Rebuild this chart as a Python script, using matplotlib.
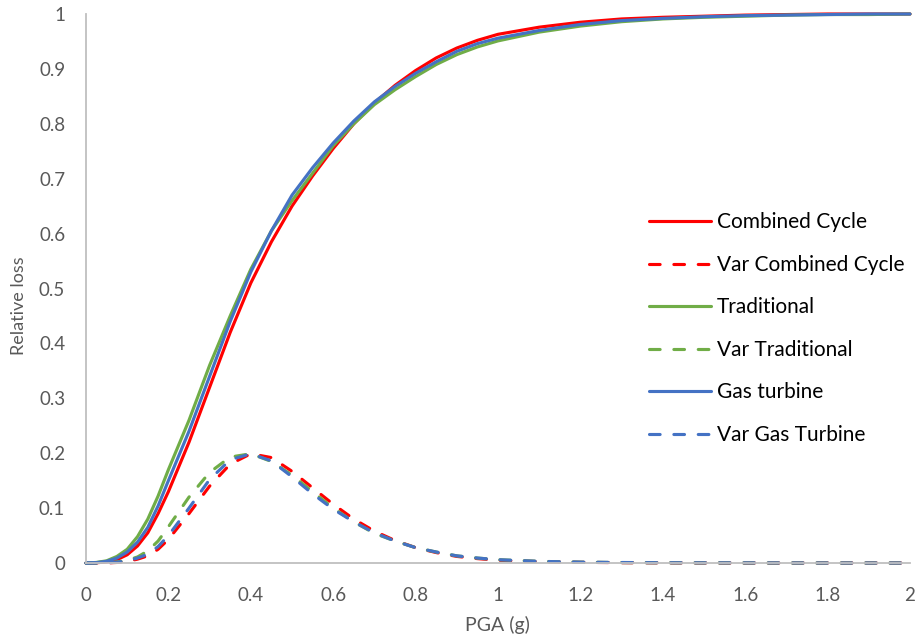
import numpy as np
import matplotlib
matplotlib.use('Agg')
import matplotlib.pyplot as plt
from matplotlib.ticker import FuncFormatter

# PGA (g) values
pga = [0, 0.025, 0.05, 0.075, 0.1, 0.125, 0.15, 0.175, 0.2, 0.25, 0.3, 0.35, 0.4,
       0.45, 0.5, 0.55, 0.6, 0.65, 0.7, 0.75, 0.8, 0.85, 0.9, 0.95, 1.0, 1.1, 1.2,
       1.3, 1.4, 1.5, 1.6, 1.7, 1.8, 1.9, 2.0]

combined_cycle = [0, 0.0004, 0.002, 0.006, 0.015, 0.031, 0.055, 0.09, 0.13, 0.22,
                  0.32, 0.42, 0.51, 0.585, 0.65, 0.705, 0.755, 0.80, 0.838, 0.87,
                  0.897, 0.92, 0.938, 0.952, 0.963, 0.976, 0.985, 0.991, 0.994,
                  0.996, 0.998, 0.999, 1.0, 1.0, 1.0]
var_combined_cycle = [0, 0, 0.0002, 0.001, 0.003, 0.007, 0.013, 0.025, 0.043, 0.09,
                      0.14, 0.18, 0.199, 0.192, 0.167, 0.137, 0.107, 0.08, 0.058,
                      0.041, 0.028, 0.019, 0.012, 0.008, 0.005, 0.0025, 0.0012,
                      0.0006, 0.0003, 0.0001, 0, 0, 0, 0, 0]

traditional = [0, 0.001, 0.004, 0.012, 0.025, 0.048, 0.08, 0.122, 0.17, 0.26, 0.36,
               0.45, 0.535, 0.605, 0.66, 0.71, 0.76, 0.80, 0.835, 0.862, 0.886,
               0.908, 0.926, 0.94, 0.951, 0.967, 0.978, 0.986, 0.991, 0.994, 0.996,
               0.998, 0.999, 0.999, 1.0]
var_traditional = [0, 0, 0.0005, 0.002, 0.005, 0.011, 0.022, 0.04, 0.066, 0.12,
                   0.165, 0.193, 0.199, 0.185, 0.16, 0.13, 0.10, 0.075, 0.054,
                   0.04, 0.028, 0.02, 0.013, 0.009, 0.006, 0.003, 0.0015, 0.0008,
                   0.0004, 0.0002, 0.0001, 0, 0, 0, 0]

gas_turbine = [0, 0.0007, 0.003, 0.009, 0.02, 0.038, 0.065, 0.104, 0.15, 0.24, 0.34,
               0.44, 0.53, 0.605, 0.67, 0.72, 0.765, 0.805, 0.84, 0.868, 0.892,
               0.913, 0.932, 0.946, 0.956, 0.970, 0.981, 0.988, 0.992, 0.995,
               0.997, 0.998, 0.999, 1.0, 1.0]
var_gas_turbine = [0, 0, 0.0003, 0.0015, 0.004, 0.009, 0.016, 0.03, 0.05, 0.10,
                   0.152, 0.188, 0.199, 0.186, 0.157, 0.126, 0.098, 0.075, 0.055,
                   0.04, 0.028, 0.02, 0.013, 0.009, 0.006, 0.003, 0.0016, 0.0009,
                   0.0005, 0.0003, 0.0002, 0.0001, 0, 0, 0]

RED = '#FF0000'
GREEN = '#70AD47'
BLUE = '#4472C4'
GREY_TEXT = '#595959'

plt.rcParams['font.family'] = ['Lato', 'DejaVu Sans']

fig = plt.figure(figsize=(9.21, 6.42), dpi=100)
ax = fig.add_axes([86 / 921, 1 - 563 / 642, (910 - 86) / 921, (563 - 14) / 642])

lw = 2.25
dash = (3.4, 4.4)
series = [
    (combined_cycle, RED, '-', 'Combined Cycle'),
    (var_combined_cycle, RED, '--', 'Var Combined Cycle'),
    (traditional, GREEN, '-', 'Traditional'),
    (var_traditional, GREEN, '--', 'Var Traditional'),
    (gas_turbine, BLUE, '-', 'Gas turbine'),
    (var_gas_turbine, BLUE, '--', 'Var Gas Turbine'),
]
for values, color, style, label in series:
    line, = ax.plot(pga, values, color=color, lw=lw, label=label,
                    solid_capstyle='round', dash_capstyle='round', clip_on=False)
    if style == '--':
        line.set_dashes(dash)

ax.set_xlim(0, 2)
ax.set_ylim(0, 1)
ax.set_xticks(np.arange(0, 2.01, 0.2))
ax.set_yticks(np.arange(0, 1.01, 0.1))
fmt = FuncFormatter(lambda v, _: f'{round(v, 1):g}')
ax.xaxis.set_major_formatter(fmt)
ax.yaxis.set_major_formatter(fmt)

for side in ['top', 'right']:
    ax.spines[side].set_visible(False)
for side in ['left', 'bottom']:
    ax.spines[side].set_color('#BFBFBF')
    ax.spines[side].set_linewidth(1.3)

ax.tick_params(axis='both', length=0, labelsize=13.5, colors=GREY_TEXT)
ax.tick_params(axis='x', pad=17)
ax.tick_params(axis='y', pad=15)

ax.set_xlabel('PGA (g)', fontsize=14, color=GREY_TEXT)
ax.set_ylabel('Relative loss', fontsize=13, color=GREY_TEXT)
ax.xaxis.set_label_coords(0.4994, -0.097)
ax.yaxis.set_label_coords(-0.071, 0.468)

leg = ax.legend(loc='upper left', bbox_to_anchor=(0.673, 1 - (204 - 14) / 549),
                frameon=False, fontsize=15, handlelength=3.0, handletextpad=0.25,
                labelspacing=1.08, borderaxespad=0)
for t in leg.get_texts():
    t.set_color('#000000')

fig.savefig('out.png', dpi=100)
